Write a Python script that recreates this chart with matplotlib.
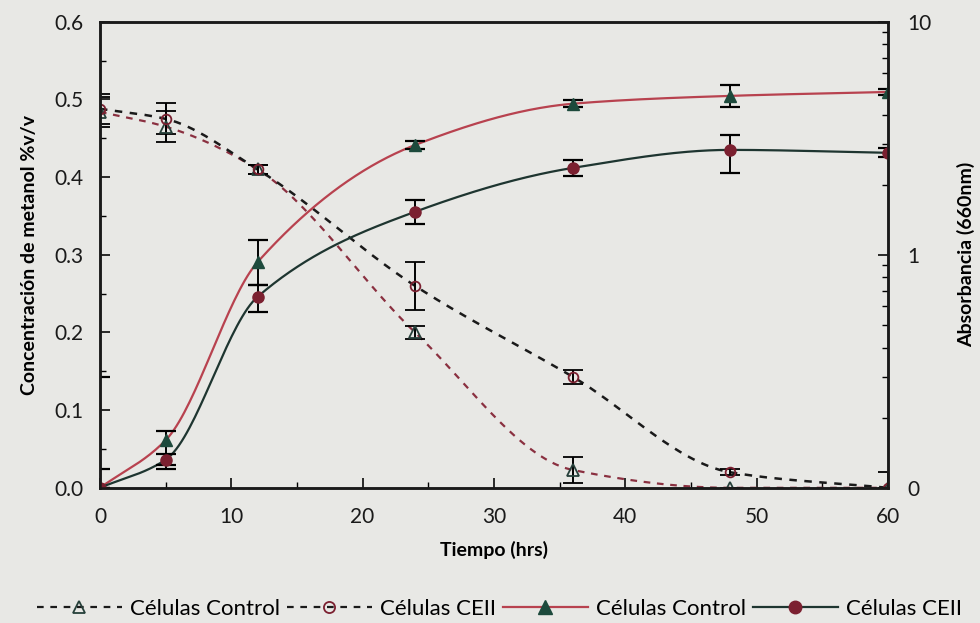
import numpy as np
import matplotlib
matplotlib.use("Agg")
import matplotlib.pyplot as plt
from matplotlib.lines import Line2D
from matplotlib.ticker import FixedLocator, FixedFormatter, MultipleLocator, LogLocator, NullFormatter

plt.rcParams['font.family'] = ['Lato', 'DejaVu Sans']

# tiempo (hrs)
t = [0, 5, 12, 24, 36, 48, 60]

# metanol %v/v (eje izquierdo)
met_control = [0.484, 0.465, 0.41, 0.20, 0.023, 0.0, 0.0]
met_control_err = [0.019, 0.020, 0.006, 0.008, 0.017, 0.0, 0.0]
met_ceii = [0.488, 0.475, 0.41, 0.26, 0.143, 0.02, 0.0]
met_ceii_err = [0.019, 0.020, 0.006, 0.031, 0.009, 0.004, 0.02]

# absorbancia 660nm (eje derecho, log)
abs_control = [0.1, 0.16, 0.93, 2.96, 4.45, 4.81, 5.0]
abs_control_lo = [0.12, 0.12, 0.74, 2.85, 4.30, 4.32, 4.85]
abs_control_hi = [0.30, 0.175, 1.16, 3.08, 4.60, 5.37, 5.15]
abs_ceii = [0.1, 0.132, 0.66, 1.53, 2.36, 2.82, 2.74]
abs_ceii_lo = [0.1, 0.125, 0.57, 1.35, 2.18, 2.25, 2.62]
abs_ceii_hi = [0.1, 0.14, 0.74, 1.72, 2.56, 3.27, 2.86]


def smooth(x, y, n=300):
    # monotone cubic (Fritsch-Carlson) solo para dibujar la curva
    x = np.asarray(x, float)
    y = np.asarray(y, float)
    h = np.diff(x)
    d = np.diff(y) / h
    m = np.zeros_like(y)
    m[0], m[-1] = d[0], d[-1]
    for i in range(1, len(y) - 1):
        if d[i-1] * d[i] > 0:
            w1 = 2*h[i] + h[i-1]
            w2 = h[i] + 2*h[i-1]
            m[i] = (w1 + w2) / (w1/d[i-1] + w2/d[i])
    xs = np.linspace(x[0], x[-1], n)
    k = np.clip(np.searchsorted(x, xs) - 1, 0, len(x) - 2)
    s = (xs - x[k]) / h[k]
    h00 = 2*s**3 - 3*s**2 + 1
    h10 = s**3 - 2*s**2 + s
    h01 = -2*s**3 + 3*s**2
    h11 = s**3 - s**2
    ys = h00*y[k] + h10*h[k]*m[k] + h01*y[k+1] + h11*h[k]*m[k+1]
    return xs, ys


bg = '#e8e8e5'
red_line = '#b8424f'
dark_line = '#1e3530'
green_mk = '#1d4a3c'
red_mk = '#7b2030'

fig = plt.figure(figsize=(9.8, 6.23), dpi=100, facecolor=bg)
ax = fig.add_axes([0.102, 0.217, 0.804, 0.748], facecolor=bg)
ax2 = ax.twinx()

# metanol (lineas discontinuas)
xs, ys = smooth(t, met_control)
ax.plot(xs, ys, ls=(0, (3, 3)), color='#8a3040', lw=1.6)
ax.errorbar(t, met_control, yerr=met_control_err, fmt='^', ms=8, mfc='none',
            mec='#26403a', mew=1.3, ecolor='black', elinewidth=1.4, capsize=7, capthick=1.6)
xs, ys = smooth(t, met_ceii)
ax.plot(xs, ys, ls=(0, (3, 3)), color='#1a1a1a', lw=1.8)
ax.errorbar(t, met_ceii, yerr=met_ceii_err, fmt='o', ms=7, mfc='none',
            mec=red_mk, mew=1.3, ecolor='black', elinewidth=1.4, capsize=7, capthick=1.6)

# absorbancia (lineas continuas)
xs, ys = smooth(t, np.log10(abs_control))
ax2.plot(xs, 10**ys, color=red_line, lw=1.6)
ax2.vlines(t, abs_control_lo, abs_control_hi, color='black', lw=1.4)
ax2.plot(t, abs_control_lo, '_', color='black', ms=14, mew=1.6)
ax2.plot(t, abs_control_hi, '_', color='black', ms=14, mew=1.6)
ax2.plot(t, abs_control, '^', color=green_mk, ms=9)

xs, ys = smooth(t, np.log10(abs_ceii))
ax2.plot(xs, 10**ys, color=dark_line, lw=1.6)
ax2.vlines(t, abs_ceii_lo, abs_ceii_hi, color='black', lw=1.4)
ax2.plot(t, abs_ceii_lo, '_', color='black', ms=14, mew=1.6)
ax2.plot(t, abs_ceii_hi, '_', color='black', ms=14, mew=1.6)
ax2.plot(t, abs_ceii, 'o', color=red_mk, ms=8)

ax.set_xlim(0, 60)
ax.set_ylim(0, 0.6)
ax.xaxis.set_major_locator(MultipleLocator(10))
ax.xaxis.set_minor_locator(MultipleLocator(5))
ax.yaxis.set_major_locator(MultipleLocator(0.1))
ax.yaxis.set_minor_locator(MultipleLocator(0.05))
ax.yaxis.set_major_formatter(plt.FuncFormatter(lambda v, p: f'{v:.1f}'))

ax2.set_yscale('log')
ax2.set_ylim(0.1, 10)
ax2.yaxis.set_major_locator(FixedLocator([0.1, 1, 10]))
ax2.yaxis.set_major_formatter(FixedFormatter(['0', '1', '10']))
ax2.yaxis.set_minor_locator(LogLocator(subs=np.arange(2, 10)))
ax2.yaxis.set_minor_formatter(NullFormatter())

for a in (ax, ax2):
    for sp in a.spines.values():
        sp.set_linewidth(1.8)
        sp.set_color('#1a1a1a')
    a.tick_params(which='major', direction='in', length=7, width=1.3, labelsize=15, colors='#1a1a1a')
    a.tick_params(which='minor', direction='in', length=4, width=1.0)
ax.tick_params(axis='x', pad=14)
ax.tick_params(axis='y', pad=12)
ax2.tick_params(axis='y', pad=14)

ax.set_xlabel('Tiempo (hrs)', fontsize=14, fontweight='bold', labelpad=10)
ax.set_ylabel('Concentración de metanol %v/v', fontsize=14, fontweight='bold', labelpad=12)
ax2.set_ylabel('Absorbancia (660nm)', fontsize=14, fontweight='bold', labelpad=18)

handles = [
    Line2D([], [], ls=(0, (3, 3)), color='#1a1a1a', lw=1.6, marker='^', ms=9,
           mfc='none', mec='#26403a', mew=1.3),
    Line2D([], [], ls=(0, (3, 3)), color='#1a1a1a', lw=1.6, marker='o', ms=8,
           mfc='none', mec=red_mk, mew=1.3),
    Line2D([], [], color=red_line, lw=1.6, marker='^', ms=10, mfc=green_mk, mec=green_mk),
    Line2D([], [], color=dark_line, lw=1.6, marker='o', ms=9, mfc=red_mk, mec=red_mk),
]
labels = ['Células Control', 'Células CEII', 'Células Control', 'Células CEII']
fig.legend(handles, labels, loc='lower center', bbox_to_anchor=(0.51, -0.025), ncol=4,
           frameon=False, fontsize=16, handlelength=3.8, columnspacing=0.3, handletextpad=0.4)

fig.savefig('out.png', dpi=100, facecolor=bg)
